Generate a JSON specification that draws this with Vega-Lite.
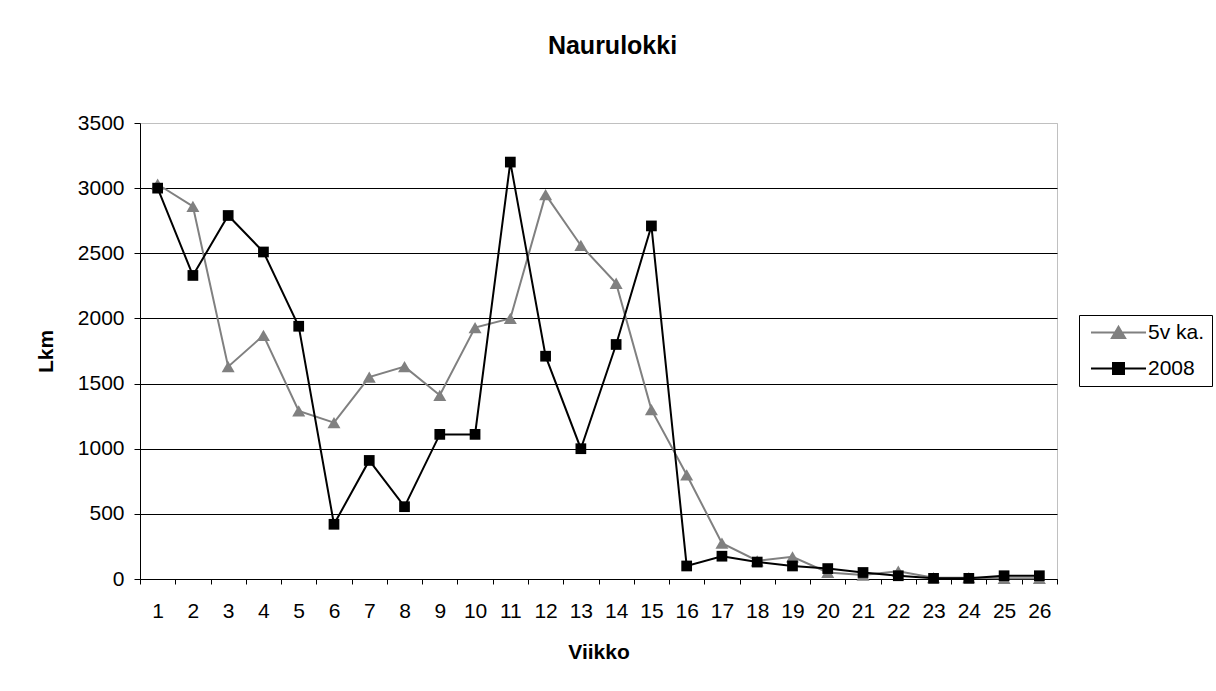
{
  "$schema": "https://vega.github.io/schema/vega-lite/v6.json",
  "width": 917,
  "height": 456,
  "autosize": {"type": "none"},
  "padding": {"left": 140, "top": 123, "right": 159, "bottom": 112},
  "background": "white",
  "config": {
    "font": "Liberation Sans",
    "view": {"stroke": "#c0c0c0", "strokeWidth": 1},
    "axis": {"labelFont": "Liberation Sans", "titleFont": "Liberation Sans", "labelColor": "black", "titleColor": "black"}
  },
  "title": {
    "text": "Naurulokki",
    "fontSize": 25,
    "fontWeight": "bold",
    "font": "Liberation Sans",
    "color": "black",
    "anchor": "middle",
    "frame": "group",
    "dx": 14,
    "offset": 53
  },
  "data": {
    "values": [
      {"week": 1, "series": "5v ka.", "value": 3030},
      {"week": 2, "series": "5v ka.", "value": 2860},
      {"week": 3, "series": "5v ka.", "value": 1630},
      {"week": 4, "series": "5v ka.", "value": 1870},
      {"week": 5, "series": "5v ka.", "value": 1290},
      {"week": 6, "series": "5v ka.", "value": 1200},
      {"week": 7, "series": "5v ka.", "value": 1550},
      {"week": 8, "series": "5v ka.", "value": 1630},
      {"week": 9, "series": "5v ka.", "value": 1410},
      {"week": 10, "series": "5v ka.", "value": 1930},
      {"week": 11, "series": "5v ka.", "value": 2000},
      {"week": 12, "series": "5v ka.", "value": 2950},
      {"week": 13, "series": "5v ka.", "value": 2560},
      {"week": 14, "series": "5v ka.", "value": 2270},
      {"week": 15, "series": "5v ka.", "value": 1300},
      {"week": 16, "series": "5v ka.", "value": 800},
      {"week": 17, "series": "5v ka.", "value": 275},
      {"week": 18, "series": "5v ka.", "value": 140},
      {"week": 19, "series": "5v ka.", "value": 170},
      {"week": 20, "series": "5v ka.", "value": 50},
      {"week": 21, "series": "5v ka.", "value": 30},
      {"week": 22, "series": "5v ka.", "value": 60},
      {"week": 23, "series": "5v ka.", "value": 10},
      {"week": 24, "series": "5v ka.", "value": 10},
      {"week": 25, "series": "5v ka.", "value": 5},
      {"week": 26, "series": "5v ka.", "value": 5},
      {"week": 1, "series": "2008", "value": 3000},
      {"week": 2, "series": "2008", "value": 2330},
      {"week": 3, "series": "2008", "value": 2790},
      {"week": 4, "series": "2008", "value": 2510},
      {"week": 5, "series": "2008", "value": 1940},
      {"week": 6, "series": "2008", "value": 420},
      {"week": 7, "series": "2008", "value": 910},
      {"week": 8, "series": "2008", "value": 555},
      {"week": 9, "series": "2008", "value": 1110},
      {"week": 10, "series": "2008", "value": 1110},
      {"week": 11, "series": "2008", "value": 3200},
      {"week": 12, "series": "2008", "value": 1710},
      {"week": 13, "series": "2008", "value": 1000},
      {"week": 14, "series": "2008", "value": 1800},
      {"week": 15, "series": "2008", "value": 2710},
      {"week": 16, "series": "2008", "value": 100},
      {"week": 17, "series": "2008", "value": 175},
      {"week": 18, "series": "2008", "value": 130},
      {"week": 19, "series": "2008", "value": 100},
      {"week": 20, "series": "2008", "value": 80},
      {"week": 21, "series": "2008", "value": 50},
      {"week": 22, "series": "2008", "value": 25},
      {"week": 23, "series": "2008", "value": 5},
      {"week": 24, "series": "2008", "value": 5},
      {"week": 25, "series": "2008", "value": 25},
      {"week": 26, "series": "2008", "value": 25}
    ]
  },
  "encoding": {
    "x": {
      "field": "week",
      "type": "ordinal",
      "bandPosition": 0.5,
      "scale": {"type": "band", "paddingInner": 0, "paddingOuter": 0},
      "axis": {
        "title": "Viikko",
        "titleFontSize": 21,
        "titleFontWeight": "bold",
        "titlePadding": 20,
        "labelFontSize": 21,
        "labelAngle": 0,
        "labelPadding": 16,
        "tickBand": "extent",
        "tickSize": 5,
        "tickColor": "black",
        "domainColor": "black",
        "grid": false
      }
    },
    "y": {
      "field": "value",
      "type": "quantitative",
      "scale": {"domain": [0, 3500], "nice": false},
      "axis": {
        "title": "Lkm",
        "titleFontSize": 21,
        "titleFontWeight": "bold",
        "titlePadding": 21,
        "labelFontSize": 21,
        "labelPadding": 10,
        "values": [0, 500, 1000, 1500, 2000, 2500, 3000, 3500],
        "format": "d",
        "tickSize": 6,
        "tickColor": "black",
        "domainColor": "black",
        "grid": true,
        "gridColor": {"condition": {"test": "datum.value === 3500", "value": "#c0c0c0"}, "value": "#000000"},
        "gridWidth": 1
      }
    }
  },
  "layer": [
    {
      "transform": [{"filter": "datum.series === '5v ka.'"}],
      "mark": {"type": "line", "strokeWidth": 2},
      "encoding": {
        "color": {
          "field": "series",
          "type": "nominal",
          "scale": {"domain": ["5v ka.", "2008"], "range": ["#808080", "#000000"]},
          "legend": {
            "orient": "none",
            "legendX": 939,
            "legendY": 192,
            "title": null,
            "strokeColor": "black",
            "fillColor": "white",
            "padding": 7,
            "rowPadding": 14,
            "labelFontSize": 21,
            "labelFont": "Liberation Sans",
            "labelColor": "black",
            "labelOffset": 41,
            "symbolSize": 121,
            "symbolStrokeWidth": 2,
            "symbolType": "M-1,0H9M3,-1H5V1H3Z",
            "encode": {
              "symbols": {
                "update": {
                  "shape": {"signal": "datum.value === '2008' ? 'M-1,0H9M3,-1H5V1H3Z' : 'M-1,0H9M4,-1.05L5.2,1L2.8,1Z'"},
                  "fill": {"signal": "datum.value === '2008' ? '#000000' : '#808080'"},
                  "stroke": {"signal": "datum.value === '2008' ? '#000000' : '#808080'"}
                }
              }
            }
          }
        }
      }
    },
    {
      "transform": [{"filter": "datum.series === '5v ka.'"}],
      "mark": {"type": "point", "shape": "triangle-up", "filled": true, "size": 169, "opacity": 1, "color": "#808080"}
    },
    {
      "transform": [{"filter": "datum.series === '2008'"}],
      "mark": {"type": "line", "strokeWidth": 2},
      "encoding": {
        "color": {"field": "series", "type": "nominal"}
      }
    },
    {
      "transform": [{"filter": "datum.series === '2008'"}],
      "mark": {"type": "point", "shape": "square", "filled": true, "size": 115, "opacity": 1, "color": "#000000"}
    }
  ]
}
